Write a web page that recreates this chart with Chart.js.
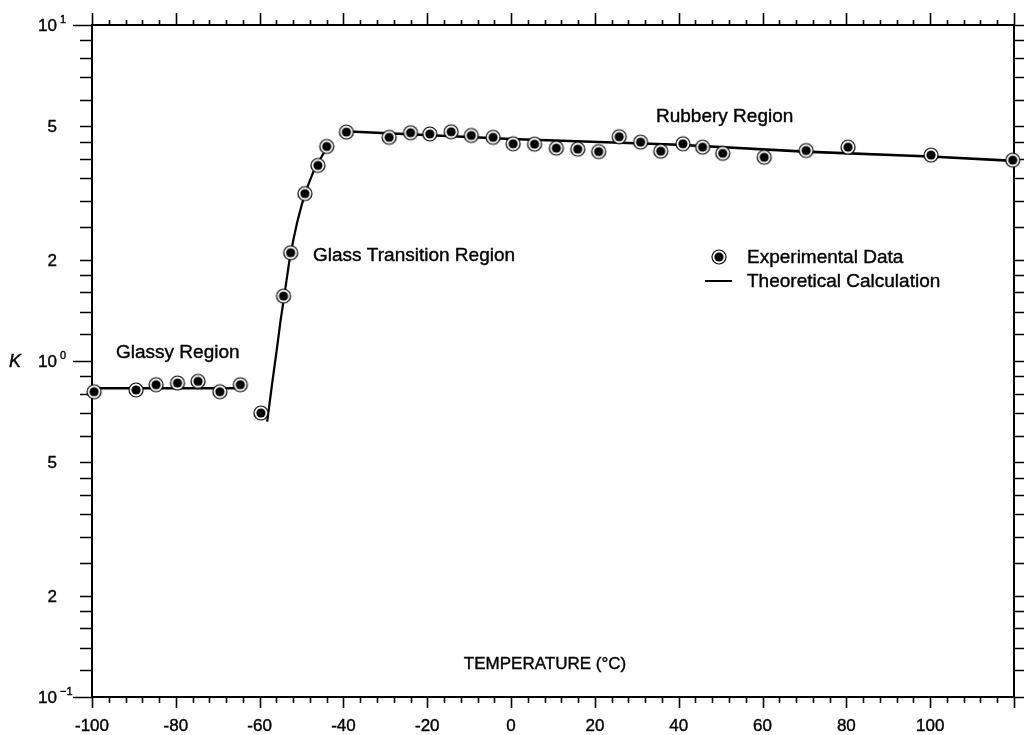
<!DOCTYPE html>
<html>
<head>
<meta charset="utf-8">
<script src="https://cdn.jsdelivr.net/npm/chart.js@4/dist/chart.umd.min.js"></script>
<style>
  body { margin: 0; background: #fff; }
  #wrap { width: 1024px; height: 735px; position: relative; }
</style>
</head>
<body>
<div id="wrap"><canvas id="chart"></canvas></div>
<script>
// experimental points
const expTemp = [-99.5, -89.5, -84.7, -79.6, -74.7, -69.5, -64.6, -59.7,
  -54.3, -52.6, -49.2, -46.1, -44.0, -39.3,
  -29.1, -24.0, -19.4, -14.3, -9.5, -4.3,
  0.5, 5.6, 10.8, 15.9, 20.9,
  25.8, 30.9, 35.7, 41.0, 45.7, 50.5,
  60.4, 70.4, 80.4, 100.2, 119.7]
const expK = [0.81, 0.82, 0.85, 0.86, 0.87, 0.81, 0.85, 0.70,
  1.56, 2.10, 3.15, 3.82, 4.35, 4.80,
  4.63, 4.78, 4.74, 4.81, 4.69, 4.63,
  4.43, 4.42, 4.30, 4.27, 4.20,
  4.65, 4.48, 4.21, 4.43, 4.33, 4.15,
  4.04, 4.23, 4.33, 4.10, 3.96]

// theoretical calculation, three pieces
const glassyT = [-100, -63.8]
const glassyK = [0.83, 0.83]
const transT = [-58.2, -57, -56, -55, -54, -53, -52, -51, -50, -49, -48, -47, -46, -45, -44, -43.3]
const transK = [0.66, 0.86, 1.06, 1.32, 1.60, 1.95, 2.28, 2.60, 2.90, 3.20, 3.45, 3.70, 3.90, 4.10, 4.30, 4.45]
const rubberyT = [-38.5, 0, 40, 70, 100, 120]
const rubberyK = [4.82, 4.58, 4.40, 4.20, 4.06, 3.94]

// axis ticks
const xLabels = [-100, -80, -60, -40, -20, 0, 20, 40, 60, 80, 100]
const xMinor = [-100, -96, -92, -88, -84, -80, -76, -72, -68, -64, -60, -56, -52, -48, -44, -40,
  -36, -32, -28, -24, -20, -16, -12, -8, -4, 0, 4, 8, 12, 16, 20, 24, 28, 32, 36, 40,
  44, 48, 52, 56, 60, 64, 68, 72, 76, 80, 84, 88, 92, 96, 100, 104, 108, 112, 116, 120]
const yDecades = [0.1, 1, 10]
const yMinor = [0.12, 0.14, 0.16, 0.18, 0.2, 0.25, 0.3, 0.35, 0.4, 0.45, 0.5, 0.6, 0.7, 0.8, 0.9,
  1.2, 1.4, 1.6, 1.8, 2, 2.5, 3, 3.5, 4, 4.5, 5, 6, 7, 8, 9]
const yLabelValues = [10, 5, 2, 1, 0.5, 0.2, 0.1]
const yLabelBase = ['10', '5', '2', '10', '5', '2', '10']
const yLabelExp = ['1', '', '', '0', '', '', '\u22121']

const FONT = '"Liberation Sans", Arial, Helvetica, sans-serif'

const pts = (xs, ys) => xs.map((x, i) => ({ x: x, y: ys[i] }))

// circled dot marker
const marker = document.createElement('canvas')
marker.width = 18
marker.height = 18
const mc = marker.getContext('2d')
mc.beginPath()
mc.arc(9, 9, 7, 0, Math.PI * 2)
mc.fillStyle = '#fff'
mc.fill()
mc.lineWidth = 1.2
mc.strokeStyle = '#000'
mc.stroke()
mc.beginPath()
mc.arc(9, 9, 4.6, 0, Math.PI * 2)
mc.fillStyle = '#000'
mc.fill()

// text with a thin stroke so it looks like the heavy print of the scan
const ink = (ctx, s, x, y) => {
  ctx.fillText(s, x, y)
  ctx.strokeText(s, x, y)
}

const frameAndTicks = {
  id: 'frameAndTicks',
  beforeDatasetsDraw(chart) {
    const ctx = chart.ctx
    const a = chart.chartArea
    const xs = chart.scales.x
    const ys = chart.scales.y
    ctx.save()
    ctx.strokeStyle = '#000'
    ctx.lineWidth = 2
    ctx.strokeRect(a.left, a.top, a.right - a.left, a.bottom - a.top)
    ctx.lineWidth = 1.6
    ctx.beginPath()
    xMinor.forEach(t => {
      const px = Math.round(xs.getPixelForValue(t)) + 0.5
      const major = t % 20 === 0
      ctx.moveTo(px, a.bottom)
      ctx.lineTo(px, a.bottom + (major ? 11 : 6))
      ctx.moveTo(px, a.top)
      ctx.lineTo(px, a.top - (major ? 12 : 5))
    })
    yMinor.concat(yDecades).forEach(v => {
      const py = Math.round(ys.getPixelForValue(v)) + 0.5
      const major = yDecades.includes(v)
      ctx.moveTo(a.left, py)
      ctx.lineTo(a.left - (major ? 19 : 12), py)
      ctx.moveTo(a.right, py)
      ctx.lineTo(a.right + (major ? 12 : 10), py)
    })
    ctx.stroke()
    ctx.restore()
  },
  afterDraw(chart) {
    const ctx = chart.ctx
    const ys = chart.scales.y
    ctx.save()
    ctx.fillStyle = '#000'
    ctx.strokeStyle = '#000'
    ctx.lineWidth = 0.4
    ctx.textBaseline = 'middle'

    // y labels with exponents
    yLabelValues.forEach((v, i) => {
      const py = ys.getPixelForValue(v)
      ctx.font = '17px ' + FONT
      ctx.textAlign = 'right'
      ink(ctx, yLabelBase[i], 57, py + 1)
      if (yLabelExp[i]) {
        ctx.font = '11px ' + FONT
        ctx.textAlign = 'left'
        ink(ctx, yLabelExp[i], 60, py - 5)
      }
    })
    ctx.font = 'italic 18px ' + FONT
    ctx.textAlign = 'left'
    ink(ctx, 'K', 9, ys.getPixelForValue(1) + 1)

    // region notes
    ctx.font = '19px ' + FONT
    ink(ctx, 'Glassy Region', 116, 353)
    ink(ctx, 'Glass Transition Region', 313, 256)
    ink(ctx, 'Rubbery Region', 656, 117)
    ctx.font = '17px ' + FONT
    ctx.textAlign = 'center'
    ink(ctx, 'TEMPERATURE (\u00B0C)', 545, 664)

    // legend
    ctx.font = '19px ' + FONT
    ctx.textAlign = 'left'
    ctx.drawImage(marker, 719 - 9, 257 - 9)
    ink(ctx, 'Experimental Data', 747, 258)
    ctx.lineWidth = 2
    ctx.beginPath()
    ctx.moveTo(705, 281)
    ctx.lineTo(732, 281)
    ctx.stroke()
    ctx.lineWidth = 0.4
    ink(ctx, 'Theoretical Calculation', 747, 282)
    ctx.restore()
  }
}

const lineStyle = {
  showLine: true,
  borderColor: '#000',
  borderWidth: 2.6,
  pointRadius: 0,
  fill: false,
  tension: 0
}

new Chart(document.getElementById('chart'), {
  type: 'scatter',
  data: {
    datasets: [
      {
        label: 'Experimental Data',
        data: pts(expTemp, expK),
        pointStyle: marker,
        pointRadius: 8,
        clip: false,
        order: 0
      },
      Object.assign({ label: 'Theoretical Calculation', data: pts(glassyT, glassyK), order: 1 }, lineStyle),
      Object.assign({ label: 'transition', data: pts(transT, transK), order: 1 }, lineStyle, { borderWidth: 2.2 }),
      Object.assign({ label: 'rubbery', data: pts(rubberyT, rubberyK), order: 1 }, lineStyle)
    ]
  },
  options: {
    responsive: true,
    maintainAspectRatio: false,
    animation: false,
    layout: { padding: { top: 25, right: 10, left: 0, bottom: 0 } },
    plugins: {
      legend: { display: false },
      tooltip: { enabled: false }
    },
    scales: {
      x: {
        type: 'linear',
        min: -100,
        max: 120,
        afterBuildTicks: s => { s.ticks = xLabels.map(v => ({ value: v })) },
        afterFit: s => { s.height = 38 },
        grid: { display: false, drawTicks: false, tickLength: 0 },
        border: { display: false },
        ticks: {
          color: '#000',
          padding: 19,
          maxRotation: 0,
          autoSkip: false,
          textStrokeColor: '#000',
          textStrokeWidth: 0.4,
          font: { family: FONT, size: 17 }
        }
      },
      y: {
        type: 'logarithmic',
        min: 0.1,
        max: 10,
        afterFit: s => { s.width = 92 },
        grid: { display: false, drawTicks: false, tickLength: 0 },
        border: { display: false },
        ticks: { display: false }
      }
    }
  },
  plugins: [frameAndTicks]
})
</script>
</body>
</html>
